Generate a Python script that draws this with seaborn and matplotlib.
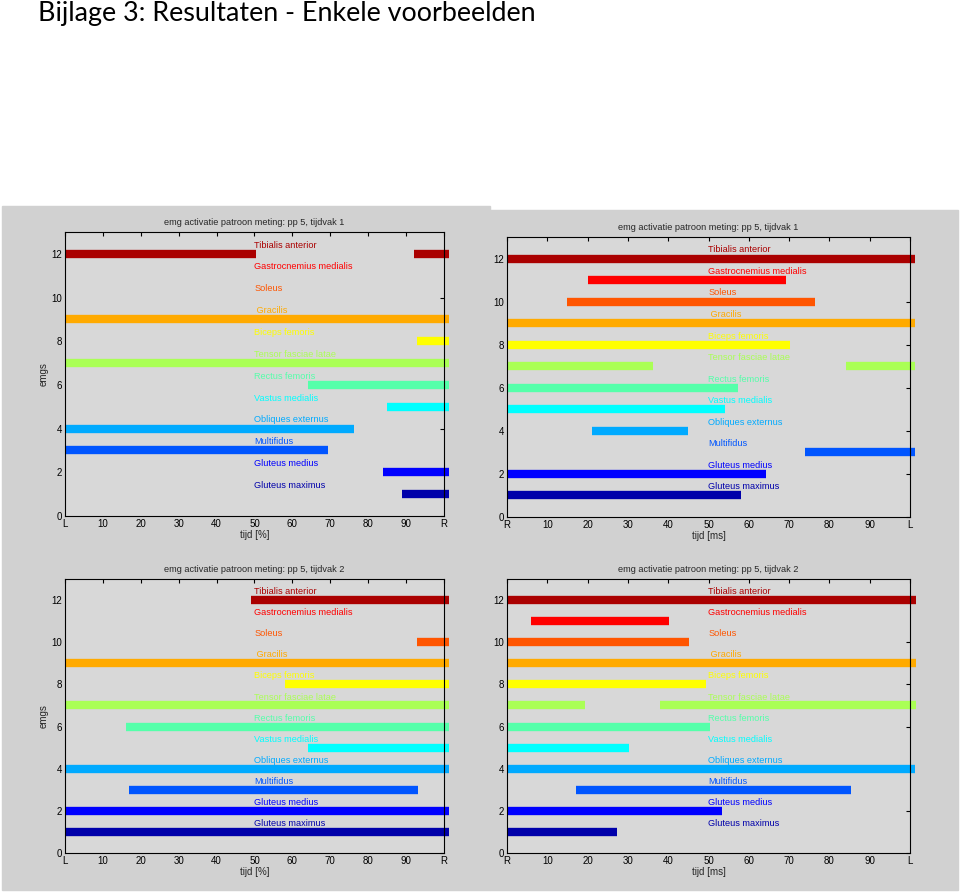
import numpy as np
import pandas as pd
import seaborn as sns
import matplotlib.pyplot as plt
from matplotlib.patches import Rectangle

muscles = ['Tibialis anterior', 'Gastrocnemius medialis', 'Soleus', ' Gracilis',
           'Biceps femoris', 'Tensor fasciae latae', 'Rectus femoris', 'Vastus medialis',
           'Obliques externus', 'Multifidus', 'Gluteus medius', 'Gluteus maximus']
levels = [12, 11, 10, 9, 8, 7, 6, 5, 4, 3, 2, 1]
colors = ['#aa0000', '#ff0000', '#ff5500', '#ffaa00', '#ffff00', '#aaff55',
          '#55ffaa', '#00ffff', '#00aaff', '#0055ff', '#0000ff', '#0000aa']

titles = ['emg activatie patroon meting: pp 5, tijdvak 1',
          'emg activatie patroon meting: pp 5, tijdvak 1',
          'emg activatie patroon meting: pp 5, tijdvak 2',
          'emg activatie patroon meting: pp 5, tijdvak 2']
xlabels = ['tijd [%]', 'tijd [ms]', 'tijd [%]', 'tijd [ms]']
xtick_lr = ['L', '10', '20', '30', '40', '50', '60', '70', '80', '90', 'R']
xtick_rl = ['R', '10', '20', '30', '40', '50', '60', '70', '80', '90', 'L']

# active segments per panel: emg level, start, end
p1_level = [12, 12, 9, 8, 7, 6, 5, 4, 3, 2, 1]
p1_start = [0, 92, 0, 93, 0, 64, 85, 0, 0, 84, 89]
p1_end = [50.4, 101.3, 101.3, 101.3, 101.3, 101.3, 101.3, 76.2, 69.3, 101.3, 101.3]

p2_level = [12, 11, 10, 9, 8, 7, 7, 6, 5, 4, 3, 2, 1]
p2_start = [0, 20, 15, 0, 0, 0, 84, 0, 0, 21, 74, 0, 0]
p2_end = [101.2, 69.2, 76.4, 101.2, 70.2, 36.3, 101.2, 57.3, 54.2, 45, 101.2, 64.2, 58.1]

p3_level = [12, 10, 9, 8, 7, 6, 5, 4, 3, 2, 1]
p3_start = [49, 93, 0, 58, 0, 16, 64, 0, 17, 0, 0]
p3_end = [101.3, 101.3, 101.3, 101.3, 101.3, 101.3, 101.3, 101.3, 93.1, 101.3, 101.3]

p4_level = [12, 11, 10, 9, 8, 7, 7, 6, 5, 4, 3, 2, 1]
p4_start = [0, 6, 0, 0, 0, 0, 38, 0, 0, 0, 17, 0, 0]
p4_end = [101.4, 40.2, 45.2, 101.4, 49.4, 19.3, 101.4, 50.3, 30.3, 101.3, 85.3, 53.3, 27.3]

panels = [(p1_level, p1_start, p1_end), (p2_level, p2_start, p2_end),
          (p3_level, p3_start, p3_end), (p4_level, p4_start, p4_end)]

sns.set_style('white')
plt.rcParams['font.family'] = ['Liberation Sans', 'DejaVu Sans']

fig = plt.figure(figsize=(9.6, 8.92), dpi=100)
W, H = 960, 892

def px(x0, y0, x1, y1):
    return [x0 / W, 1 - y1 / H, (x1 - x0) / W, (y1 - y0) / H]

# grey matlab figure backgrounds
fig.patches.append(Rectangle((2 / W, 1 - 890 / H), 488 / W, 684 / H,
                             transform=fig.transFigure, color='#d1d1d1', zorder=-5))
fig.patches.append(Rectangle((490 / W, 1 - 890 / H), 468 / W, 680 / H,
                             transform=fig.transFigure, color='#d1d1d1', zorder=-5))

fig.text(38 / W, 1 - 1 / H, 'Bijlage 3: Resultaten - Enkele voorbeelden',
         fontsize=19.4, family='Lato', va='top', ha='left', color='black')

boxes = [px(65, 232, 444, 516), px(507, 237, 910, 517),
         px(65, 579, 444, 853), px(507, 579, 910, 853)]

palette = dict(zip(levels, colors))

for i, (lev, st, en) in enumerate(panels):
    ax = fig.add_axes(boxes[i])
    ax.set_facecolor('#d8d8d8')
    rows = []
    for k, (l, s, e) in enumerate(zip(lev, st, en)):
        rows.append({'seg': k, 'emg': l, 'x': s, 'y': l})
        rows.append({'seg': k, 'emg': l, 'x': e, 'y': l})
    df = pd.DataFrame(rows)
    sns.lineplot(df, x='x', y='y', units='seg', hue='emg', palette=palette,
                 estimator=None, sort=False, linewidth=6, legend=False, ax=ax,
                 solid_capstyle='butt')
    for ln in ax.lines:
        ln.set_clip_on(False)
    for name, l, c in zip(muscles, levels, colors):
        ax.text(50, l + 0.4, name, color=c, fontsize=6.6, va='center', ha='left')
    ax.set_xlim(0, 100)
    ax.set_ylim(0, 13)
    ax.set_xticks(range(0, 101, 10))
    ax.set_xticklabels(xtick_lr if i % 2 == 0 else xtick_rl)
    ax.set_yticks(range(0, 13, 2))
    ax.tick_params(direction='in', length=3, width=0.8, top=True, right=True,
                   labelsize=7, pad=2, colors='black')
    for sp in ax.spines.values():
        sp.set_visible(True)
        sp.set_color('black')
        sp.set_linewidth(0.8)
    ax.set_title(titles[i], fontsize=6.6, pad=5)
    ax.set_xlabel(xlabels[i], fontsize=7, labelpad=1)
    if i % 2 == 0:
        ax.set_ylabel('emgs', fontsize=7, labelpad=2)
    else:
        ax.set_ylabel('')

fig.savefig('out.png', dpi=100, facecolor='white')
